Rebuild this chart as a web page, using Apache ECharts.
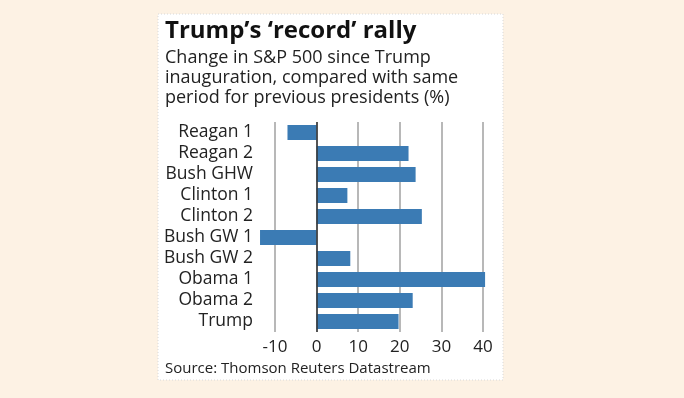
<!DOCTYPE html>
<html>
<head>
<meta charset="utf-8">
<script src="https://cdn.jsdelivr.net/npm/echarts@6/dist/echarts.min.js"></script>
<style>
  html, body { margin: 0; padding: 0; background: #fdf2e4; }
  #chart { width: 684px; height: 398px; }
</style>
</head>
<body>
<div id="chart"></div>
<script>
// presidential terms, top to bottom
const categories = ['Reagan 1', 'Reagan 2', 'Bush GHW', 'Clinton 1', 'Clinton 2',
  'Bush GW 1', 'Bush GW 2', 'Obama 1', 'Obama 2', 'Trump'];
// change in S&P 500 since inauguration (%)
const changes = [-7.0, 22.1, 23.8, 7.4, 25.3, -13.6, 8.1, 40.5, 23.1, 19.7];
const xTicks = [-10, 0, 10, 20, 30, 40];

const FONT = '"Open Sans", sans-serif';
const chart = echarts.init(document.getElementById('chart'));

chart.setOption({
  backgroundColor: '#fdf2e4',
  animation: false,
  textStyle: { fontFamily: FONT },
  graphic: [
    {
      type: 'rect',
      z: -10,
      shape: { x: 158, y: 14, width: 345, height: 366 },
      style: { fill: '#ffffff', stroke: '#d8d8d8', lineWidth: 1, lineDash: [1, 2] }
    },
    {
      type: 'text',
      left: 165,
      top: 361,
      style: {
        text: 'Source: Thomson Reuters Datastream',
        font: '15px ' + FONT,
        fill: '#222'
      }
    }
  ],
  title: {
    text: 'Trump\u2019s \u2018record\u2019 rally',
    subtext: 'Change in S&P 500 since Trump\ninauguration, compared with same\nperiod for previous presidents (%)',
    left: 160,
    top: 14,
    itemGap: 5,
    textStyle: { fontFamily: FONT, fontSize: 24, fontWeight: 'bold', color: '#111' },
    subtextStyle: { fontFamily: FONT, fontSize: 18, lineHeight: 20, color: '#222' }
  },
  grid: { left: 275, right: 201, top: 122, bottom: 66 },
  xAxis: {
    type: 'value',
    min: -10,
    max: 40,
    interval: 10,
    axisLine: { show: false },
    axisTick: { show: false },
    axisLabel: {
      fontFamily: FONT, fontSize: 17, color: '#222', margin: 7,
      formatter: v => xTicks.includes(v) ? String(v) : ''
    },
    splitLine: { show: true, lineStyle: { color: '#a0a0a0', width: 1.5 } }
  },
  yAxis: {
    type: 'category',
    data: categories,
    inverse: true,
    axisLine: { show: false },
    axisTick: { show: false },
    axisLabel: {
      interval: 0, fontFamily: FONT, fontSize: 17.5, lineHeight: 20,
      color: '#222', margin: 22
    }
  },
  series: [{
    type: 'bar',
    data: changes,
    barWidth: 15,
    clip: false,
    itemStyle: { color: '#3b7bb4' },
    markLine: {
      silent: true,
      symbol: 'none',
      label: { show: false },
      lineStyle: { color: '#333', width: 1.5, type: 'solid' },
      data: [{ xAxis: 0 }]
    }
  }]
});
</script>
</body>
</html>
